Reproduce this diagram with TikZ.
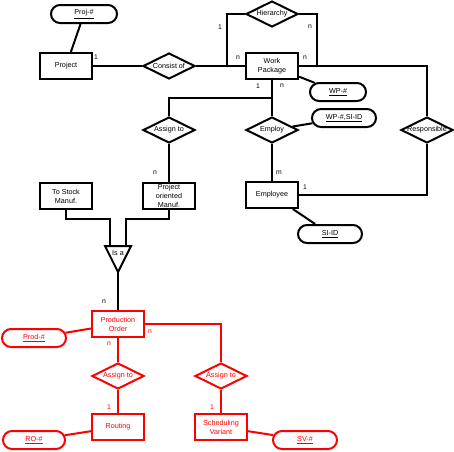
\documentclass[tikz,border=0pt]{standalone}
\usepackage{fontspec}
\setmainfont{Liberation Sans}
\usetikzlibrary{shapes.geometric,shapes.misc}
\newcommand\mkdia[1]{\makebox[0pt]{#1}}
\begin{document}
\begin{tikzpicture}[x=1pt,y=-1pt, line width=2pt,
  every node/.style={font=\fontsize{7.2}{9}\selectfont, inner sep=0pt, align=center},
  ent/.style={draw, rectangle, minimum width=52pt, minimum height=26pt},
  rel/.style={draw, diamond, minimum width=52pt, minimum height=26pt},
  attr/.style={draw, rounded rectangle, minimum height=18pt},
  card/.style={font=\fontsize{6.8}{8}\selectfont},
  rd/.style={draw=red, text=red},
  rdline/.style={color=red}]
\useasboundingbox (0,0) rectangle (454,451);

% ---- black part ----
\node[attr, minimum width=66pt] (projid) at (84,14) {\underline{Proj-\#}};
\node[ent] (project) at (66,66) {Project};
\node[rel] (consist) at (169,66) {\mkdia{Consist of}};
\node[ent] (wp) at (272,66) {Work\\Package};
\node[rel] (hier) at (272,14) {\mkdia{Hierarchy}};
\node[attr, minimum width=56pt] (wpid) at (338,92) {\underline{WP-\#}};
\node[attr, minimum width=64pt] (wpsiid) at (344,118) {\underline{WP-\#,SI-ID}};
\node[rel] (employ) at (272,130) {\mkdia{Employ}};
\node[rel] (resp) at (427,130) {\mkdia{Responsible}};
\node[ent] (employee) at (272,195) {Employee};
\node[attr, minimum width=64pt] (siid) at (330,234) {\underline{SI-ID}};
\node[rel] (assign1) at (169,130) {\mkdia{Assign to}};
\node[ent] (pom) at (169,196) {Project\\oriented\\Manuf.};
\node[ent] (tostock) at (66,196) {To Stock\\Manuf.};

\coordinate (isaL) at (110,246);
\coordinate (isaR) at (126,246);
\coordinate (isaA) at (118,272);
\draw[line join=miter] (105,246) -- (131,246) -- (isaA) -- cycle;
\node (isa) at (118,253.5) {Is a};

\coordinate (hl) at (227,66);
\coordinate (hr) at (317,66);
\coordinate (br) at (272,98);

\draw (projid) -- (project);
\draw (project.east) -- (consist.west);
\draw (consist.east) -- (wp.west);
\draw (hier.west) -| (hl);
\draw (hier.east) -| (hr);
\draw (wp.east) -| (resp.north);
\draw (wp.south) -- (employ.north);
\draw (br) -| (assign1.north);
\draw (wp) -- (wpid);
\draw (employ) -- (wpsiid);
\draw (employ.south) -- (employee.north);
\draw (employee.east) -| (resp.south);
\draw (employee) -- (siid);
\draw (assign1.south) -- (pom.north);
\draw (tostock.south) -- ++(0,9) -| (isaL);
\draw (pom.south) -- ++(0,9) -| (isaR);

% ---- red part ----
\node[ent, rd] (po) at (118,324) {Production\\Order};
\node[attr, rd, minimum width=64pt] (prodid) at (34,338) {\underline{Prod-\#}};
\node[rel, rd] (assignL) at (118,376) {\mkdia{Assign to}};
\node[rel, rd] (assignR) at (221,376) {\mkdia{Assign to}};
\node[ent, rd] (routing) at (118,427) {Routing};
\node[ent, rd] (sched) at (221,427) {Scheduling\\Variant};
\node[attr, rd, minimum width=62pt] (roid) at (34,440) {\underline{RO-\#}};
\node[attr, rd, minimum width=64pt] (svid) at (305,440) {\underline{SV-\#}};

\draw (isaA) -- (po.north);
\draw[rdline] (prodid) -- (po);
\draw[rdline] (po.south) -- (assignL.north);
\draw[rdline] (po.east) -| (assignR.north);
\draw[rdline] (assignL.south) -- (routing.north);
\draw[rdline] (assignR.south) -- (sched.north);
\draw[rdline] (routing) -- (roid);
\draw[rdline] (sched) -- (svid);

% ---- cardinalities ----
\node[card] (c1) at (96,57) {1};
\node[card] (c2) at (220,27) {1};
\node[card] (c3) at (310,27) {n};
\node[card] (c4) at (238,58) {n};
\node[card] (c5) at (305,58) {n};
\node[card] (c6) at (258,86) {1};
\node[card] (c7) at (282,86) {n};
\node[card] (c8) at (155,173) {n};
\node[card] (c9) at (279,173) {m};
\node[card] (c10) at (305,187) {1};
\node[card] (c11) at (104,302) {n};
\node[card, text=red] (c12) at (109,344) {n};
\node[card, text=red] (c13) at (150,332) {n};
\node[card, text=red] (c14) at (109,407) {1};
\node[card, text=red] (c15) at (212,407) {1};
\end{tikzpicture}
\end{document}
